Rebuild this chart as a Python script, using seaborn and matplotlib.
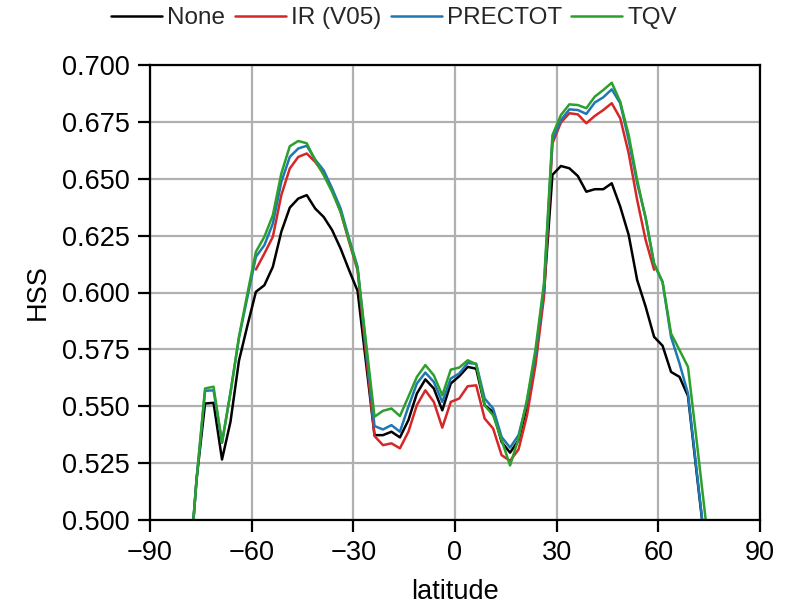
import numpy as np
import pandas as pd
import matplotlib
matplotlib.use("Agg")
import matplotlib.pyplot as plt
import seaborn as sns

# latitude bin centres (2.5 deg)
lat = [-78.75, -76.25, -73.75, -71.25, -68.75, -66.25, -63.75, -61.25, -58.75, -56.25,
       -53.75, -51.25, -48.75, -46.25, -43.75, -41.25, -38.75, -36.25, -33.75, -31.25,
       -28.75, -26.25, -23.75, -21.25, -18.75, -16.25, -13.75, -11.25, -8.75, -6.25,
       -3.75, -1.25, 1.25, 3.75, 6.25, 8.75, 11.25, 13.75, 16.25, 18.75,
       21.25, 23.75, 26.25, 28.75, 31.25, 33.75, 36.25, 38.75, 41.25, 43.75,
       46.25, 48.75, 51.25, 53.75, 56.25, 58.75, 61.25, 63.75, 66.25, 68.75,
       71.25, 73.75, 76.25]

nan = np.nan
hss_none = [0.470, 0.518, 0.5512, 0.5515, 0.5266, 0.5432, 0.5700, 0.5855, 0.6003, 0.6032,
            0.6113, 0.6267, 0.6373, 0.6413, 0.6428, 0.6369, 0.6332, 0.6274, 0.6193, 0.6098,
            0.6007, 0.5690, 0.5373, 0.5373, 0.5388, 0.5363, 0.5439, 0.5556, 0.5618, 0.5578,
            0.5482, 0.5600, 0.5632, 0.5673, 0.5665, 0.5504, 0.5475, 0.5343, 0.5296, 0.5351,
            0.5500, 0.5720, 0.6000, 0.6517, 0.6556, 0.6546, 0.6512, 0.6443, 0.6454, 0.6454,
            0.6480, 0.6378, 0.6253, 0.6055, 0.5938, 0.5805, 0.5766, 0.5651, 0.5629, 0.5545,
            0.5215, 0.4890, nan]

hss_ir = [nan, nan, nan, nan, nan, nan, nan, nan, 0.6101, 0.6171,
          0.6245, 0.6428, 0.6545, 0.6596, 0.6611, 0.6574, 0.6523, 0.6450, 0.6354, 0.6223,
          0.6098, 0.5730, 0.5369, 0.5329, 0.5337, 0.5315, 0.5388, 0.5505, 0.5570, 0.5519,
          0.5406, 0.5519, 0.5534, 0.5588, 0.5592, 0.5446, 0.5402, 0.5285, 0.5260, 0.5310,
          0.5460, 0.5680, 0.5980, 0.6656, 0.6747, 0.6788, 0.6783, 0.6744, 0.6776, 0.6802,
          0.6832, 0.6766, 0.6612, 0.6407, 0.6231, 0.6100, nan, nan, nan, nan,
          nan, nan, nan]

hss_prectot = [0.470, 0.518, 0.5568, 0.5570, 0.5340, 0.5560, 0.5800, 0.5980, 0.6157, 0.6208,
               0.6303, 0.6486, 0.6596, 0.6633, 0.6645, 0.6584, 0.6537, 0.6457, 0.6369, 0.6237,
               0.6113, 0.5760, 0.5413, 0.5398, 0.5417, 0.5388, 0.5498, 0.5600, 0.5648, 0.5607,
               0.5519, 0.5622, 0.5644, 0.5690, 0.5687, 0.5534, 0.5490, 0.5365, 0.5318, 0.5373,
               0.5520, 0.5730, 0.6020, 0.6670, 0.6758, 0.6805, 0.6802, 0.6785, 0.6835, 0.6858,
               0.6893, 0.6832, 0.6670, 0.6480, 0.6330, 0.6125, 0.6045, 0.5805, 0.5688, 0.5556,
               0.5225, 0.4894, nan]

hss_tqv = [0.470, 0.518, 0.5578, 0.5586, 0.5340, 0.5560, 0.5805, 0.5996, 0.6179, 0.6245,
           0.6340, 0.6523, 0.6643, 0.6666, 0.6656, 0.6581, 0.6516, 0.6442, 0.6354, 0.6230,
           0.6105, 0.5780, 0.5454, 0.5480, 0.5490, 0.5457, 0.5542, 0.5629, 0.5681, 0.5636,
           0.5548, 0.5661, 0.5670, 0.5702, 0.5685, 0.5504, 0.5460, 0.5351, 0.5240, 0.5358,
           0.5530, 0.5750, 0.6040, 0.6692, 0.6780, 0.6827, 0.6824, 0.6810, 0.6861, 0.6890,
           0.6922, 0.6839, 0.6692, 0.6495, 0.6326, 0.6128, 0.6047, 0.5820, 0.5747, 0.5673,
           0.5356, 0.5030, 0.470]

series_names = ["None", "IR (V05)", "PRECTOT", "TQV"]
colors = ["black", "#d62728", "#1f77b4", "#2ca02c"]

df = pd.concat([
    pd.DataFrame({"latitude": lat, "HSS": vals, "input": name})
    for name, vals in zip(series_names, [hss_none, hss_ir, hss_prectot, hss_tqv])
])
df = df.dropna()

sns.set_theme(style="whitegrid")
plt.rcParams["font.family"] = ["Liberation Sans", "DejaVu Sans"]

fig = plt.figure(figsize=(7.88, 6.05), dpi=100)
ax = fig.add_axes([150 / 788, 1 - 520 / 605, 610 / 788, 455 / 605])

sns.lineplot(data=df, x="latitude", y="HSS", hue="input", hue_order=series_names,
             palette=colors, errorbar=None, linewidth=1.8, ax=ax)

ax.set_xlim(-90, 90)
ax.set_ylim(0.5, 0.7)
ax.set_xticks([-90, -60, -30, 0, 30, 60, 90])
ax.set_yticks([0.5, 0.525, 0.55, 0.575, 0.6, 0.625, 0.65, 0.675, 0.7])
ax.yaxis.set_major_formatter(matplotlib.ticker.FormatStrFormatter("%.3f"))

ax.grid(True, color="#b0b0b0", linewidth=1.6)
for sp in ax.spines.values():
    sp.set_color("black")
    sp.set_linewidth(1.6)
ax.tick_params(axis="both", direction="out", length=8.5, width=1.6, color="black",
               labelsize=19.5, labelcolor="black", pad=6, left=True, bottom=True)
ax.set_xlabel("latitude", fontsize=19.5, color="black", labelpad=9)
ax.set_ylabel("HSS", fontsize=19.5, color="black", labelpad=8)

handles, labels = ax.get_legend_handles_labels()
ax.legend(handles, labels, loc="center", bbox_to_anchor=(0.5, 1 - 18 / 605),
          bbox_transform=fig.transFigure, ncol=4, frameon=False, fontsize=17.5,
          handlelength=2.1, handletextpad=0.2, columnspacing=0.4)

fig.savefig("out.png", dpi=100)
